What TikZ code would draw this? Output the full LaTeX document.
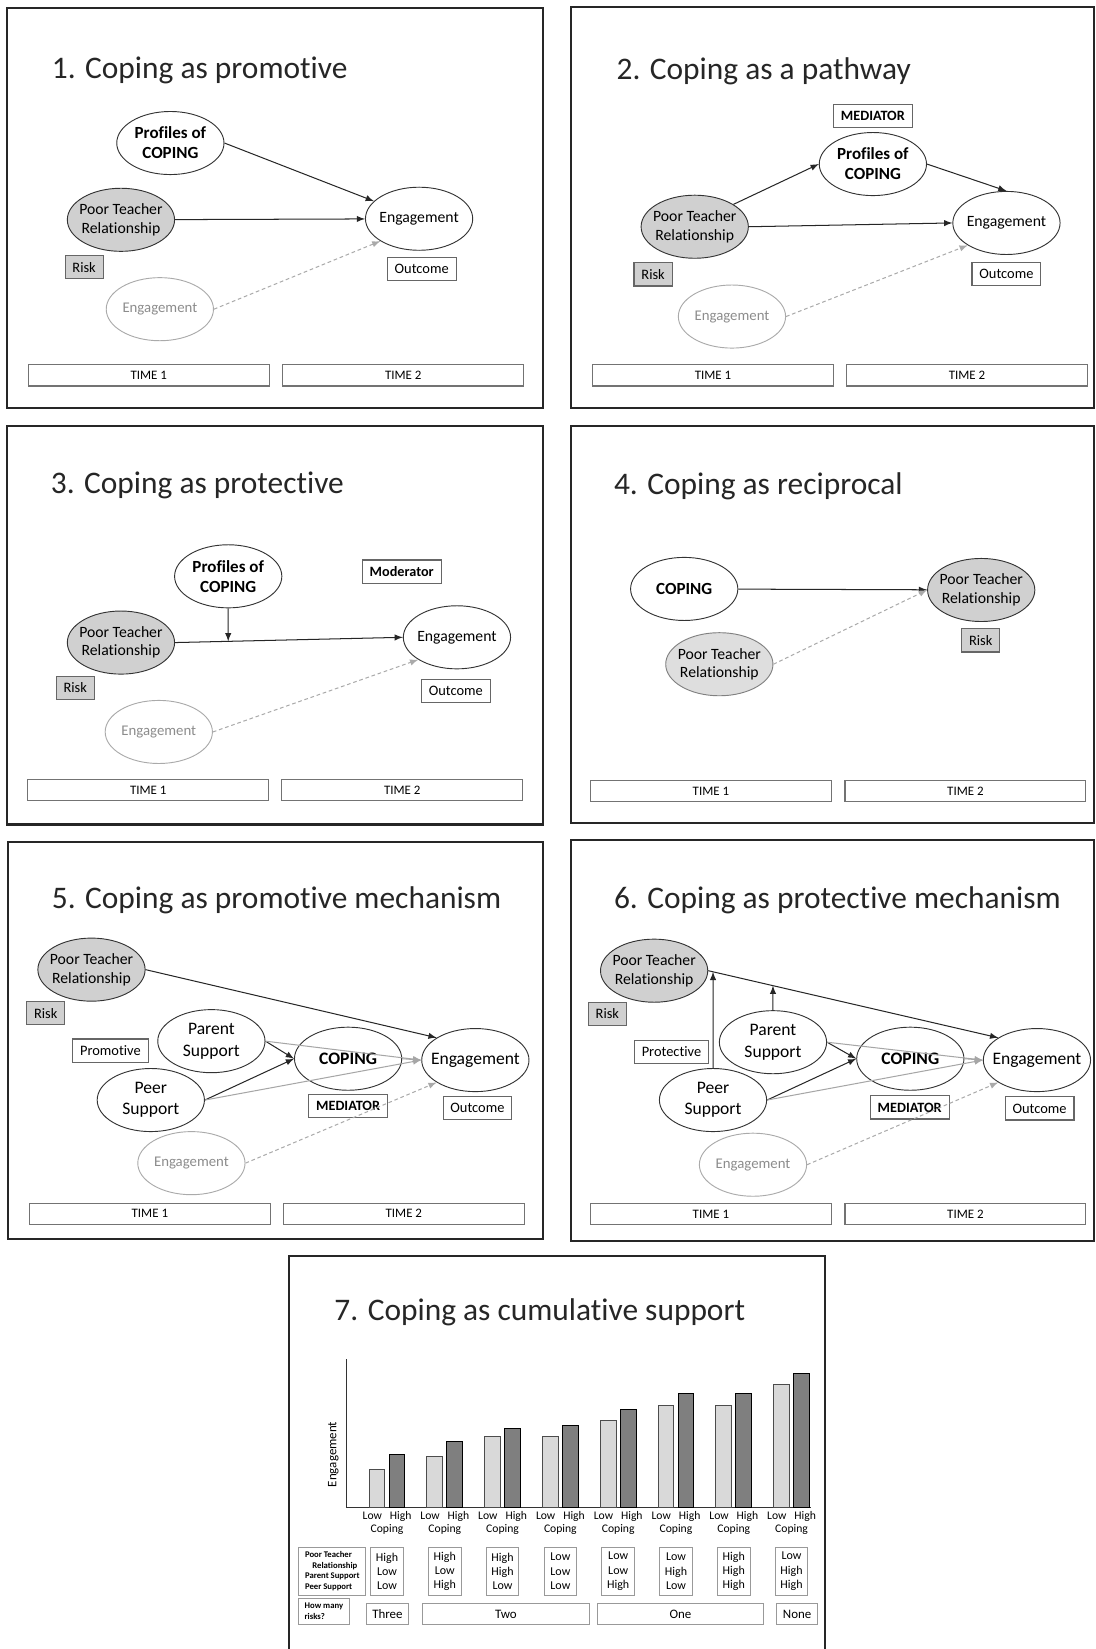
\documentclass[tikz,border=0pt]{standalone}
\usepackage{fontspec}
\setmainfont{Carlito}[Ligatures=NoCommon]
\usetikzlibrary{shapes.geometric,intersections}
\definecolor{riskgray}{RGB}{208,208,208}
\definecolor{priorgray}{RGB}{222,222,222}
\definecolor{fadeline}{RGB}{170,170,170}
\definecolor{fadetext}{RGB}{140,140,140}
\definecolor{lightbar}{RGB}{217,217,217}
\definecolor{darkbar}{RGB}{127,127,127}
\newcommand{\fsz}[2]{\fontsize{#1}{#2}\selectfont}

\begin{document}
\begin{tikzpicture}[x=0.02cm, y=-0.02cm, >=latex,
    panelframe/.style={draw=black!85, line width=1.1pt},
    ttl/.style={anchor=base west, inner sep=0pt, text=black!85, font=\fsz{17}{20}},
    var/.style={ellipse, draw=black!80, line width=0.5pt, minimum width=2.04cm, minimum height=1.2cm,
      inner xsep=-6pt, inner ysep=0pt, align=center, font=\fsz{8.5}{10}},
    bvar/.style={var, font=\fsz{9.2}{10.8}\bfseries},
    riskvar/.style={var, fill=riskgray},
    pastvar/.style={var, draw=fadeline, text=fadetext, font=\fsz{8}{10}},
    bigvar/.style={var, font=\fsz{9.5}{11.6}},
    labelbox/.style={draw=black!60, line width=0.6pt, inner xsep=4pt, inner ysep=0pt,
      minimum height=0.44cm, font=\fsz{7.8}{9}},
    risklabel/.style={labelbox, fill=riskgray},
    boldlabel/.style={labelbox, font=\fsz{7.7}{9}\bfseries},
    timebox/.style={draw=black!55, line width=0.6pt, minimum width=4.58cm, minimum height=0.4cm,
      inner sep=0pt, font=\fsz{7}{8}},
    arr/.style={->, line width=0.55pt, draw=black!85},
    grayarr/.style={->, line width=0.55pt, draw=black!35},
    pastarr/.style={->, dash pattern=on 2pt off 1.5pt, line width=0.55pt, draw=fadeline},
    lowbar/.style={draw=black!70, line width=0.5pt, fill=lightbar},
    highbar/.style={draw=black, line width=0.5pt, fill=darkbar},
    barlab/.style={inner sep=0pt, font=\fsz{6.3}{7}},
    valcell/.style={draw=black!40, line width=0.5pt, minimum width=0.62cm, minimum height=0.92cm,
      inner sep=0pt, align=center, font=\fsz{6.5}{7.6}},
    keybox/.style={draw=black!40, line width=0.5pt, inner sep=0pt, align=left,
      font=\fsz{4.7}{5.8}\bfseries},
    countbox/.style={draw=black!40, line width=0.5pt, minimum height=0.4cm, inner sep=0pt,
      font=\fsz{7}{8}}]
  \useasboundingbox[fill=white] (0,0) rectangle (1042,1568);

  % 1. promotive
  \draw[panelframe] (7,8) rectangle (516,388);
  \node[ttl] (t1) at (49,74.5) {1. Coping as promotive};
  \node[bvar] (prof1) at (162,136) {Profiles of\\COPING};
  \node[riskvar] (ptr1) at (115,209) {Poor Teacher\\Relationship};
  \node[risklabel] (risk1) at (80,254) {Risk};
  \node[var] (eng1) at (398.5,208) {Engagement};
  \node[labelbox] (out1) at (401,255.5) {Outcome};
  \node[pastvar] (pre1) at (152,294) {Engagement};
  \node[timebox] (ta1) at (141.5,357) {TIME 1};
  \node[timebox] (tb1) at (383.5,357) {TIME 2};
  \draw[arr] (prof1.east) -- (eng1);
  \draw[arr] (ptr1) -- (eng1);
  \draw[pastarr] (pre1.east) -- (eng1.210);

  % 2. pathway
  \draw[panelframe] (543,7) rectangle (1040,388);
  \node[ttl] (t2) at (586,76) {2. Coping as a pathway};
  \node[boldlabel] (med2) at (830,110) {MEDIATOR};
  \node[bvar] (prof2) at (830,156) {Profiles of\\COPING};
  \node[riskvar] (ptr2) at (660.6,215.6) {Poor Teacher\\Relationship};
  \node[risklabel] (risk2) at (621,261) {Risk};
  \node[var] (eng2) at (957,212) {Engagement};
  \node[labelbox] (out2) at (957,260.5) {Outcome};
  \node[pastvar] (pre2) at (696,301) {Engagement};
  \node[timebox] (ta2) at (678,357) {TIME 1};
  \node[timebox] (tb2) at (919.5,357) {TIME 2};
  \draw[arr] (ptr2.30) -- (prof2.west);
  \draw[arr] (prof2.east) -- (eng2.north);
  \draw[arr] (ptr2.east) -- (eng2.west);
  \draw[pastarr] (pre2.east) -- (eng2.210);

  % 3. protective
  \draw[panelframe] (7,405) rectangle (516,784);
  \node[ttl] (t3) at (48,469) {3. Coping as protective};
  \node[bvar] (prof3) at (217,548) {Profiles of\\COPING};
  \node[boldlabel] (mod3) at (382,543.5) {Moderator};
  \node[riskvar] (ptr3) at (115,611) {Poor Teacher\\Relationship};
  \node[risklabel] (risk3) at (71.5,654) {Risk};
  \node[var] (eng3) at (434.5,606) {Engagement};
  \node[labelbox] (out3) at (433.5,657) {Outcome};
  \node[pastvar] (pre3) at (151,696) {Engagement};
  \node[timebox] (ta3) at (141,751.5) {TIME 1};
  \node[timebox] (tb3) at (382.5,751.5) {TIME 2};
  \draw[arr, name path=pe3] (ptr3.east) -- (eng3.west);
  \path[name path=vc3] (prof3.south) -- ++(0,60);
  \path[name intersections={of=pe3 and vc3, by=m3}];
  \draw[arr] (prof3.south) -- (m3);
  \draw[pastarr] (pre3.east) -- (eng3.210);

  % 4. reciprocal
  \draw[panelframe] (543,405) rectangle (1040,783);
  \node[ttl] (t4) at (583.5,470) {4. Coping as reciprocal};
  \node[bvar] (cop4) at (650.6,560) {COPING};
  \node[riskvar] (ptr4b) at (933,561) {Poor Teacher\\Relationship};
  \node[risklabel] (risk4) at (932.5,609) {Risk};
  \node[riskvar, fill=priorgray, draw=black!50] (ptr4a) at (684,631.6) {Poor Teacher\\Relationship};
  \node[timebox] (ta4) at (676,752) {TIME 1};
  \node[timebox] (tb4) at (918,752) {TIME 2};
  \draw[arr] (cop4) -- (ptr4b);
  \draw[pastarr] (ptr4a.east) -- (ptr4b.west);

  % 5. promotive mechanism
  \draw[panelframe] (8,801) rectangle (516,1178);
  \node[ttl] (t5) at (49,864) {5. Coping as promotive mechanism};
  \node[riskvar] (ptr5) at (87,922) {Poor Teacher\\Relationship};
  \node[risklabel] (risk5) at (43.5,963.5) {Risk};
  \node[labelbox] (prom5) at (105,999) {Promotive};
  \node[bigvar] (par5) at (201,990) {Parent\\Support};
  \node[bigvar] (peer5) at (143.4,1046) {Peer\\Support};
  \node[bigvar, font=\fsz{9.5}{11.6}\bfseries] (cop5) at (331,1006.7) {COPING};
  \node[bigvar] (eng5) at (452,1008) {Engagement};
  \node[boldlabel] (med5) at (331,1052) {MEDIATOR};
  \node[labelbox] (out5) at (454,1053.5) {Outcome};
  \node[pastvar] (pre5) at (182,1106) {Engagement};
  \node[timebox] (ta5) at (142.5,1154) {TIME 1};
  \node[timebox] (tb5) at (384,1154) {TIME 2};
  \draw[arr] (ptr5.east) -- (eng5.150);
  \draw[arr] (par5.east) -- (cop5.west);
  \draw[arr] (peer5.east) -- (cop5.west);
  \draw[grayarr] (par5.east) -- (eng5.west);
  \draw[grayarr] (peer5.east) -- (eng5.west);
  \draw[grayarr] (cop5.east) -- (eng5.west);
  \draw[pastarr] (pre5.east) -- (eng5.210);

  % 6. protective mechanism
  \draw[panelframe] (543,799) rectangle (1040,1180);
  \node[ttl] (t6) at (583.5,864) {6. Coping as protective mechanism};
  \node[riskvar] (ptr6) at (622,923) {Poor Teacher\\Relationship};
  \node[risklabel] (risk6) at (577.5,964) {Risk};
  \node[labelbox] (prot6) at (638.5,1000) {Protective};
  \node[bigvar] (par6) at (735,991) {Parent\\Support};
  \node[bigvar] (peer6) at (678,1046) {Peer\\Support};
  \node[bigvar, font=\fsz{9.5}{11.6}\bfseries] (cop6) at (865.6,1006.7) {COPING};
  \node[bigvar] (eng6) at (986,1008) {Engagement};
  \node[boldlabel] (med6) at (865,1053) {MEDIATOR};
  \node[labelbox] (out6) at (988.5,1054) {Outcome};
  \node[pastvar] (pre6) at (716,1107.5) {Engagement};
  \node[timebox] (ta6) at (676,1154.5) {TIME 1};
  \node[timebox] (tb6) at (918,1154.5) {TIME 2};
  \draw[arr, name path=pe6] (ptr6.east) -- (eng6.150);
  \path[name path=vpeer6] (peer6.north) -- ++(0,-120);
  \path[name path=vpar6] (par6.north) -- ++(0,-120);
  \path[name intersections={of=pe6 and vpeer6, by=m6a}];
  \path[name intersections={of=pe6 and vpar6, by=m6b}];
  \draw[arr] (peer6.north) -- (m6a);
  \draw[arr] (par6.north) -- (m6b);
  \draw[arr] (par6.east) -- (cop6.west);
  \draw[arr] (peer6.east) -- (cop6.west);
  \draw[grayarr] (par6.east) -- (eng6.west);
  \draw[grayarr] (peer6.east) -- (eng6.west);
  \draw[grayarr] (cop6.east) -- (eng6.west);
  \draw[pastarr] (pre6.east) -- (eng6.210);

  % 7. cumulative support
  \draw[panelframe] (275,1580) -- (275,1194) -- (784.6,1194) -- (784.6,1580);
  \node[ttl] (t7) at (317.7,1256) {7. Coping as cumulative support};
  \draw[line width=0.6pt, black!80] (329.4,1292.6) -- (329.4,1433.7) -- (771,1433.7);
  \node[rotate=90, inner sep=0pt, font=\fsz{7}{8}] (ylab) at (317,1383) {Engagement};
  \foreach \lo/\hi/\pt/\pa/\pe [count=\i from 0] in
      {36.5/50.7/High/Low/Low, 48.5/62.8/High/Low/High, 68.2/75.4/High/High/Low,
       68.2/78.6/Low/Low/Low, 83.4/93.5/Low/Low/High, 97.3/108.7/Low/High/Low,
       97.6/108.7/High/High/High, 117.3/127.8/Low/High/High} {
    \pgfmathsetmacro{\cx}{368+54.95*\i}
    \draw[lowbar] (\cx-17,1433.7) rectangle ++(15,-\lo);
    \draw[highbar] (\cx+2,1433.7) rectangle ++(15,-\hi);
    \node[barlab] (lo\i) at (\cx-14,1441.6) {Low};
    \node[barlab] (hi\i) at (\cx+13,1441.6) {High};
    \node[barlab] (cp\i) at (\cx,1454) {Coping};
    \node[valcell] (val\i) at (\cx,1494) {\pt\\\pa\\\pe};
  }
  \node[keybox, minimum width=1.274cm, minimum height=0.92cm] (key7) at (316,1494)
    {Poor Teacher\\\hspace*{4pt}Relationship\\Parent Support\\Peer Support};
  \node[keybox, minimum width=0.954cm, minimum height=0.49cm] (how7) at (308,1532.3)
    {How many\\risks?};
  \node[countbox, minimum width=0.8cm] (three7) at (368.4,1534.6) {Three};
  \node[countbox, minimum width=3.18cm] (two7) at (481,1534.6) {Two};
  \node[countbox, minimum width=3.16cm] (one7) at (647,1534.6) {One};
  \node[countbox, minimum width=0.78cm] (none7) at (758,1534.6) {None};
\end{tikzpicture}
\end{document}
